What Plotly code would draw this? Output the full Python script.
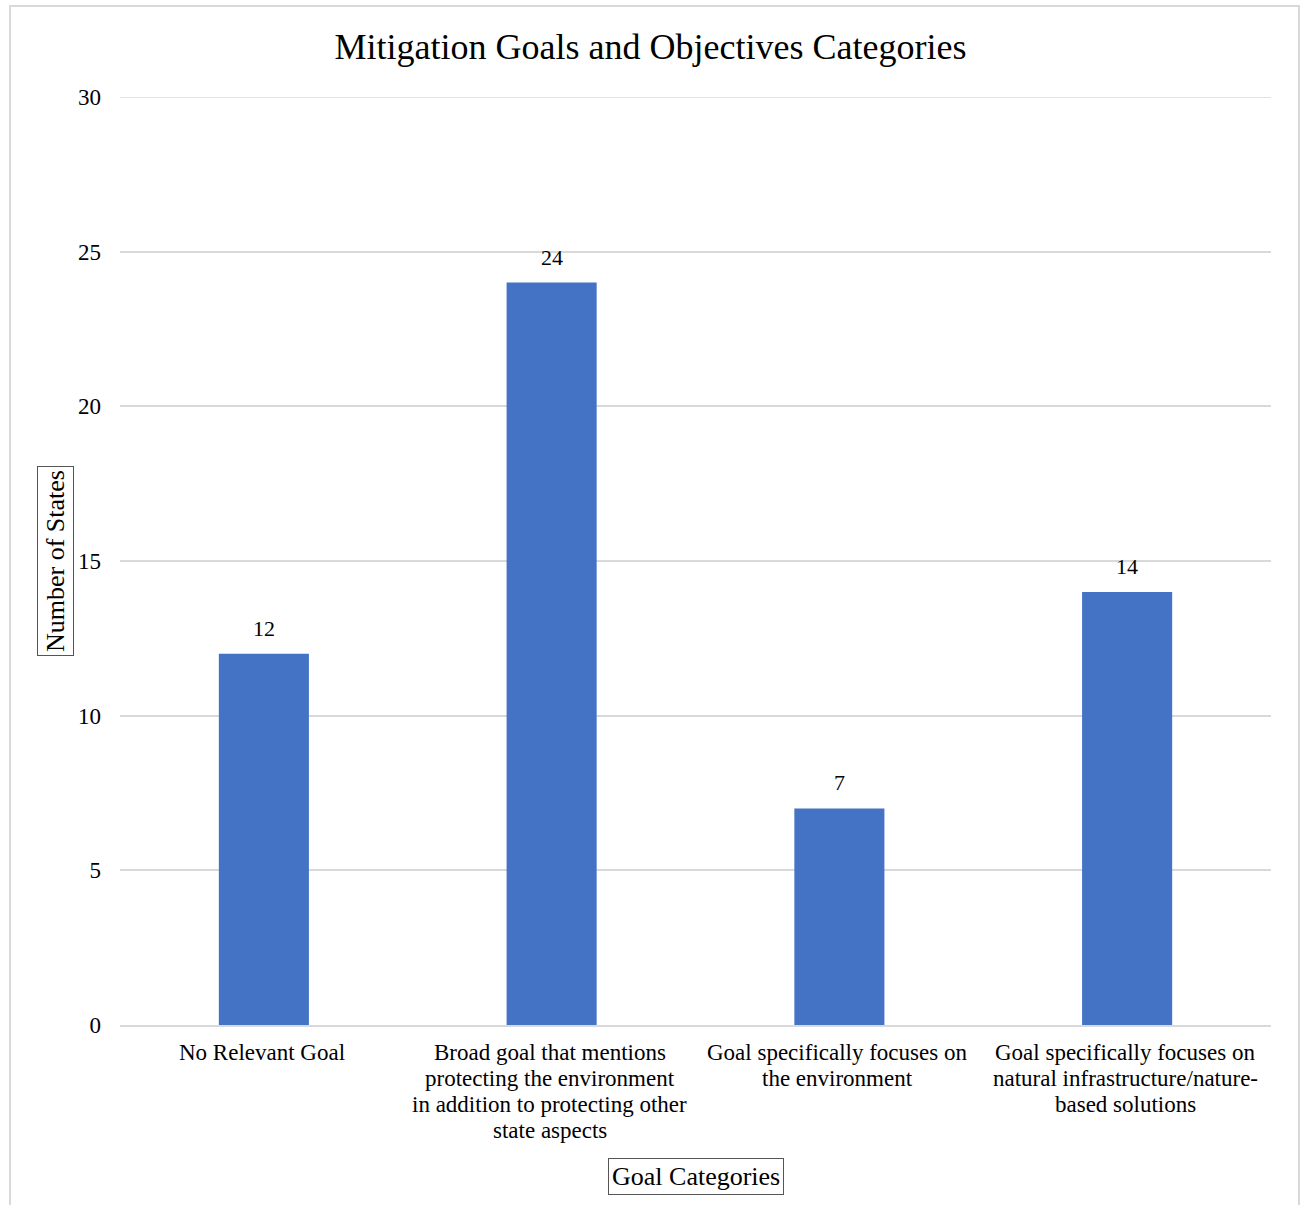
import plotly.graph_objects as go

# Goal categories (x-axis labels) and number of states in each
categories = [
    "No Relevant Goal",
    "Broad goal that mentions<br>protecting the environment<br>in addition to protecting other<br>state aspects",
    "Goal specifically focuses on<br>the environment",
    "Goal specifically focuses on<br>natural infrastructure/nature-<br>based solutions",
]
states = [12, 24, 7, 14]
y_ticks = [0, 5, 10, 15, 20, 25, 30]

FONT = "Liberation Serif, Times New Roman, serif"
BAR_COLOR = "#4472C4"
GRID = "#d9d9d9"

# plot-area geometry in pixels
W, H = 1301, 1205
L, R, T, B = 120, 30, 97, 180
PH = H - T - B


def py_to_paper(py):
    return (H - B - py) / PH


fig = go.Figure(
    go.Bar(
        x=categories,
        y=states,
        marker=dict(color=BAR_COLOR, line=dict(width=0)),
        hoverinfo="x+y",
    )
)

fig.update_layout(
    width=W,
    height=H,
    margin=dict(l=L, r=R, t=T, b=B),
    paper_bgcolor="#ffffff",
    plot_bgcolor="#ffffff",
    font=dict(family=FONT, size=23, color="#000000"),
    bargap=0.687,
    showlegend=False,
    title=dict(
        text="Mitigation Goals and Objectives Categories",
        font=dict(family=FONT, size=36, color="#000000"),
        x=0.5,
        xanchor="center",
        y=1 - 46 / H,
        yanchor="middle",
    ),
)

fig.update_xaxes(
    showgrid=False,
    showline=True,
    linecolor=GRID,
    linewidth=2,
    ticks="",
    showticklabels=False,
)

fig.update_yaxes(
    range=[y_ticks[0], y_ticks[-1]],
    tickvals=y_ticks,
    showgrid=True,
    gridcolor=GRID,
    gridwidth=1.5,
    zeroline=False,
    showline=False,
    ticks="",
    tickfont=dict(family=FONT, size=23, color="#000000"),
    ticklabelstandoff=18,
)

# Gridline at the top of the value range (edge gridlines are skipped by the axis)
fig.add_shape(
    type="line",
    xref="paper", yref="y",
    x0=0, x1=1, y0=y_ticks[-1], y1=y_ticks[-1],
    line=dict(color=GRID, width=1.5),
    layer="below",
)

# Value labels above each bar
for cat, val in zip(categories, states):
    fig.add_annotation(
        x=cat, y=val, xref="x", yref="y",
        text=str(val),
        showarrow=False,
        xanchor="center", yanchor="bottom",
        yshift=11,
        font=dict(family=FONT, size=22, color="#000000"),
    )

# Category labels under the axis, one line at a time for tighter leading
LINE_GAP = 26
for cat in categories:
    for i, line in enumerate(cat.split("<br>")):
        fig.add_annotation(
            x=cat, xref="x", yref="paper",
            y=py_to_paper(1052 + i * LINE_GAP),
            text=line,
            showarrow=False,
            xanchor="center", yanchor="middle",
            xshift=-2,
            font=dict(family=FONT, size=23, color="#000000"),
        )

# Boxed axis titles
fig.add_annotation(
    text="Number of States",
    textangle=-90,
    xref="paper", yref="paper",
    x=(55 - L) / (W - L - R), y=0.5,
    xanchor="center", yanchor="middle",
    showarrow=False,
    font=dict(family=FONT, size=26, color="#000000"),
    bordercolor="#555555", borderwidth=1, borderpad=3,
    bgcolor="#ffffff",
)
fig.add_annotation(
    text="Goal Categories",
    xref="paper", yref="paper",
    x=0.5, y=py_to_paper(1176),
    xanchor="center", yanchor="middle",
    showarrow=False,
    font=dict(family=FONT, size=26, color="#000000"),
    bordercolor="#555555", borderwidth=1, borderpad=3,
    bgcolor="#ffffff",
)

# Light chart-area frame
fig.add_shape(
    type="rect",
    xref="paper", yref="paper",
    x0=(10 - L) / (W - L - R), x1=(1299 - L) / (W - L - R),
    y0=py_to_paper(1215), y1=py_to_paper(6),
    line=dict(color="#d9d9d9", width=2),
    fillcolor="rgba(0,0,0,0)",
    layer="below",
)

fig.write_html("out.html")
